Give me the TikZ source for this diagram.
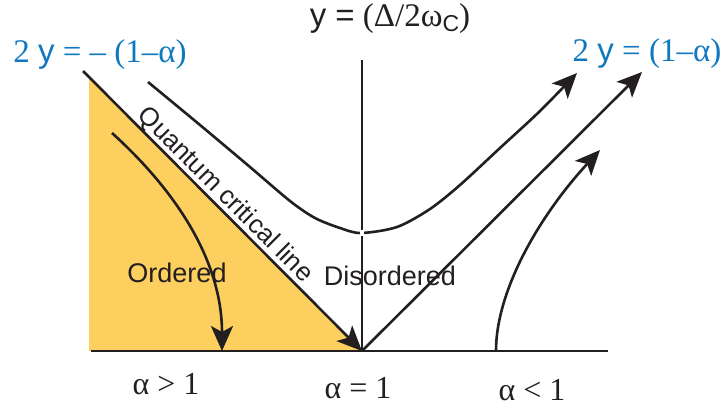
\documentclass[tikz,border=0pt]{standalone}
\usepackage{fontspec}
\setmainfont{Liberation Serif}
\newfontfamily\hsans{Liberation Sans}
\usetikzlibrary{arrows.meta}
\definecolor{ordyellow}{RGB}{252,207,95}
\definecolor{lblblue}{RGB}{16,120,190}
\definecolor{ink}{RGB}{35,31,32}
\begin{document}
\begin{tikzpicture}[x=1pt,y=-1pt,
  thickline/.style={line width=2.6pt, draw=ink},
  thinline/.style={line width=1.8pt, draw=ink},
  arrowtip/.style={-{Stealth[length=25pt,width=22pt,inset=6pt]}},
  region/.style={font=\hsans\fontsize{27}{32}\selectfont, inner sep=0pt, text=ink},
  bluelabel/.style={text=lblblue, font=\fontsize{33}{38}\selectfont, inner sep=0pt},
  alphalabel/.style={font=\fontsize{32}{38}\selectfont, inner sep=0pt, text=ink}]
\path[use as bounding box] (0,0) rectangle (723,410);
% coordinates
\coordinate (QC) at (362,351);
\coordinate (top) at (362,60);
\coordinate (diagstart) at (83,71);
\coordinate (basel) at (91,351);
\coordinate (baser) at (608,351);
\coordinate (fillA) at (89,77);
\coordinate (fillB) at (89,351);
\coordinate (diagend) at (642,72);
\coordinate (ordS) at (112,133);
\coordinate (ordE) at (222,351);
\coordinate (disS) at (496,351);
\coordinate (disE) at (600,150);
% fill
\fill[ordyellow] (fillA) -- (QC) -- (fillB) -- cycle;
% axes
\draw[thinline] (basel) -- (baser);
\draw[thinline] (QC) -- (top);
% straight lines
\draw[thickline, arrowtip] (diagstart) -- (QC);
\draw[thickline, arrowtip] (QC) -- (diagend);
% hyperbola
\draw[thickline, arrowtip]
  plot[smooth] coordinates {(148,82) (200,125) (250,167) (290,201) (315,218) (340,228) (361,233) (397,227) (430,209) (460,185) (500,148) (540,111) (577,73)};
\fill[white] (359.5,230) rectangle (364,236);
% ordered flow
\draw[thickline, arrowtip] (ordS) .. controls (175,190) and (222,260) .. (ordE);
% disordered flow
\draw[thickline, arrowtip] (disS) .. controls (496,290) and (540,215) .. (disE);
% texts
\node[region] (ord) at (177,273) {Ordered};
\node[region] (dis) at (390,276) {Disordered};
\node[region, font=\hsans\fontsize{26}{30}\selectfont, rotate=-45, anchor=base] (qcl) at (220,200) {Quantum critical line};
\node[bluelabel] (bl) at (100,55) {2 {\hsans y} = – (1–α)};
\node[bluelabel] (br) at (647,54) {2 {\hsans y} = (1–α)};
\node[font=\fontsize{33}{38}\selectfont, inner sep=0pt, text=ink] (ytop) at (390,19) {{\hsans y =} (Δ/2ω{\hsans\fontsize{23}{26}\selectfont\raisebox{-5pt}{C}})};
\node[alphalabel] (a1) at (166,384) {α > 1};
\node[alphalabel] (a2) at (358,388) {α = 1};
\node[alphalabel] (a3) at (532,390) {α < 1};
\end{tikzpicture}
\end{document}
